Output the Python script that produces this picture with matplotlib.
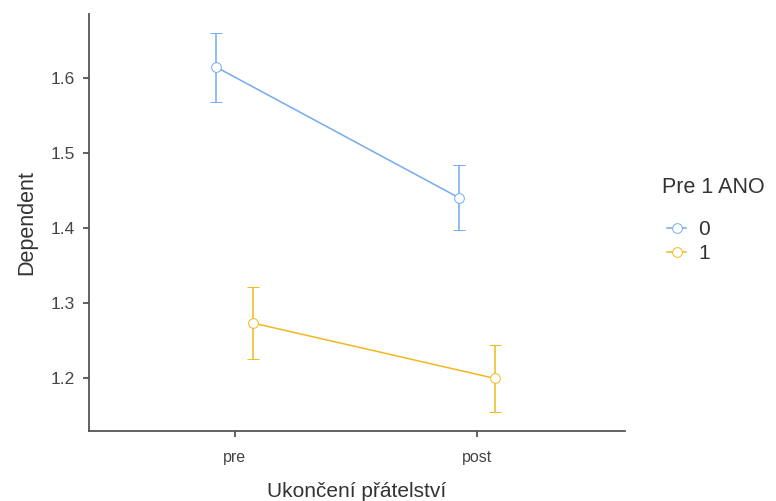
import matplotlib.pyplot as plt
from matplotlib.lines import Line2D

plt.rcParams['font.family'] = ['Liberation Sans', 'DejaVu Sans']

# data
categories = ['pre', 'post']
groups = ['0', '1']
means = {'0': [1.614, 1.440], '1': [1.273, 1.199]}
upper = {'0': [1.660, 1.483], '1': [1.321, 1.244]}
lower = {'0': [1.568, 1.397], '1': [1.225, 1.154]}
colors = {'0': '#74aaf0', '1': '#f2b81e'}
dodge = {'0': -0.075, '1': 0.075}

fig = plt.figure(figsize=(7.76, 5.01), dpi=100)
ax = fig.add_axes([0.1147, 0.1397, 0.6907, 0.8318])

for g in groups:
    xs = [i + 1 + dodge[g] for i in range(len(categories))]
    m = means[g]
    err = [[m[i] - lower[g][i] for i in range(len(m))],
           [upper[g][i] - m[i] for i in range(len(m))]]
    ax.errorbar(xs, m, yerr=err, color=colors[g], lw=1.1, capsize=4,
                capthick=1.1, elinewidth=1.1, marker='o', markersize=7,
                markerfacecolor='white', markeredgecolor=colors[g],
                markeredgewidth=0.7, zorder=3)

ax.set_xlim(0.4, 2.61)
ax.set_ylim(1.129, 1.6845)
ax.set_xticks([1, 2])
ax.set_xticklabels(categories)
ax.set_yticks([1.2, 1.3, 1.4, 1.5, 1.6])
ax.set_yticklabels(['1.2', '1.3', '1.4', '1.5', '1.6'])

for s in ['top', 'right']:
    ax.spines[s].set_visible(False)
for s in ['left', 'bottom']:
    ax.spines[s].set_color('#555555')
    ax.spines[s].set_linewidth(1.3)
ax.tick_params(colors='#555555', labelcolor='#444444', length=4, width=1.3)
ax.tick_params(axis='y', labelsize=12.5, pad=6)
ax.tick_params(axis='x', labelsize=11.5, pad=10)

ax.set_xlabel('Ukončení přátelství', fontsize=15, color='#333333', labelpad=12)
ax.set_ylabel('Dependent', fontsize=15.5, color='#333333', labelpad=10)

handles = [Line2D([0], [0], color=colors[g], lw=1.1, marker='o', markersize=7,
                  markerfacecolor='white', markeredgecolor=colors[g],
                  markeredgewidth=0.7) for g in groups]
fig.text(0.853, 0.625, 'Pre 1 ANO', fontsize=15.5, color='#333333',
         ha='left', va='center')
leg = fig.legend(handles, groups, loc='upper left',
                 bbox_to_anchor=(0.860, 0.560), frameon=False, fontsize=15,
                 handlelength=0.9, handletextpad=0.6, labelspacing=0.22,
                 borderpad=0, borderaxespad=0)
for t in leg.get_texts():
    t.set_color('#333333')

fig.savefig('out.png', dpi=100)
